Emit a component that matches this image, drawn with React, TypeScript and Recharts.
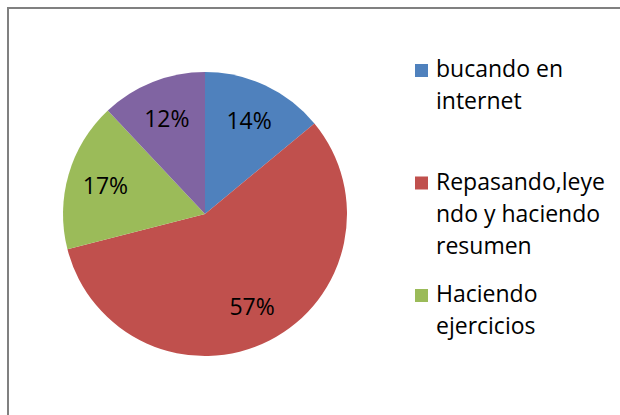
import { Cell, Legend, Pie, PieChart } from 'recharts';

const categories = [
  'bucando en internet',
  'Repasando,leyendo y haciendo resumen',
  'Haciendo ejercicios',
  'Otros',
];
const shares = [14, 57, 17, 12];
const colors = ['#4F81BD', '#C0504D', '#9BBB59', '#8064A2'];
// legend wraps like the original box; the 4th entry doesn't fit and is dropped
const legendLines = [
  ['bucando en', 'internet'],
  ['Repasando,leye', 'ndo y haciendo', 'resumen'],
  ['Haciendo', 'ejercicios'],
];

const data = categories.map((name, i) => ({ name, value: shares[i] }));

const FONT = '"Open Sans", "Noto Sans", sans-serif';
const RADIAN = Math.PI / 180;

function renderLabel(props: any) {
  const { cx, cy, midAngle, outerRadius, percent } = props;
  const r = outerRadius * 0.73;
  const x = cx + r * Math.cos(-midAngle * RADIAN);
  const y = cy + r * Math.sin(-midAngle * RADIAN);
  return (
    <text
      x={x}
      y={y}
      fill="#000"
      fontSize={23}
      fontFamily={FONT}
      textAnchor="middle"
      dominantBaseline="central"
    >
      {`${Math.round(percent * 100)}%`}
    </text>
  );
}

function ChartLegend() {
  return (
    <svg width={620} height={415} style={{ display: 'block' }}>
      {legendLines.map((lines, i) => {
        const base = 77 + i * 112.5;
        return (
          <g key={i}>
            <rect x={415} y={base - 13} width={13} height={13} fill={colors[i]} />
            {lines.map((line, j) => (
              <text
                key={j}
                x={436}
                y={base + j * 32}
                fontSize={23}
                fontFamily={FONT}
                fill="#000"
              >
                {line}
              </text>
            ))}
          </g>
        );
      })}
    </svg>
  );
}

export default function App() {
  return (
    <div
      style={{
        position: 'absolute',
        left: 0,
        top: 0,
        width: 620,
        height: 415,
        overflow: 'hidden',
        background: '#fff',
      }}
    >
      <div
        style={{
          position: 'absolute',
          left: 7,
          top: 7,
          width: 700,
          height: 500,
          borderLeft: '2px solid #808080',
          borderTop: '2px solid #808080',
        }}
      />
      <PieChart
        width={620}
        height={415}
        margin={{ top: 0, right: 0, bottom: 0, left: 0 }}
        style={{ position: 'absolute', left: 0, top: 0 }}
      >
        <Pie
          data={data}
          dataKey="value"
          nameKey="name"
          cx={205}
          cy={214}
          outerRadius={142}
          startAngle={90}
          endAngle={-270}
          stroke="none"
          label={renderLabel}
          labelLine={false}
          isAnimationActive={false}
        >
          {data.map((_, i) => (
            <Cell key={i} fill={colors[i]} />
          ))}
        </Pie>
        <Legend
          content={() => <ChartLegend />}
          wrapperStyle={{ position: 'absolute', left: 0, top: 0, width: 620, height: 415, pointerEvents: 'none' }}
        />
      </PieChart>
    </div>
  );
}
